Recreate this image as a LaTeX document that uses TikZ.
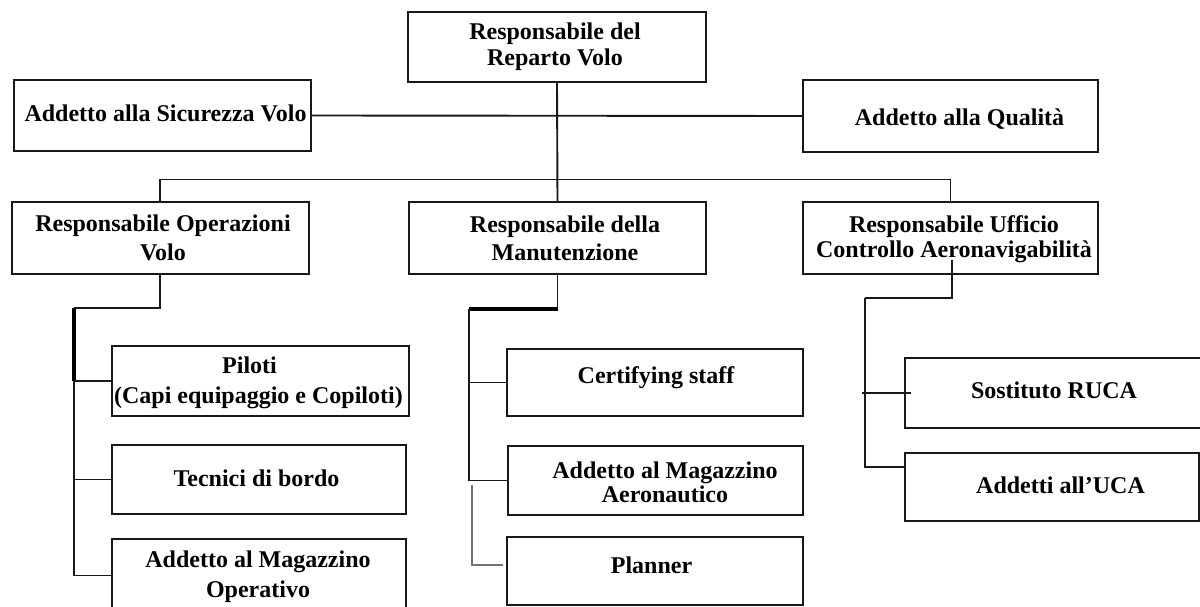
\documentclass[tikz,border=0pt]{standalone}
\usepackage{fontspec}
\setmainfont{Liberation Serif}
\usetikzlibrary{calc}
\begin{document}
\begin{tikzpicture}[x=1pt,y=-1pt,
  box/.style={draw=black!90, line width=2pt, inner sep=0pt, fill=none},
  txt/.style={inner sep=0pt, align=center, font=\fontsize{24}{28}\selectfont\bfseries},
  conn/.style={draw=black!90, line width=1.9pt},
  thickconn/.style={draw=black, line width=3.2pt},
  grayconn/.style={draw=black!55, line width=2.8pt}
]
\useasboundingbox (0,0) rectangle (1200,607);
\clip (0,0) rectangle (1200,607);
\fill[white] (0,0) rectangle (1200,607);

% boxes
\node[box, minimum width=298pt, minimum height=70pt] (top)  at (557,47) {};
\node[box, minimum width=297pt, minimum height=71pt] (sic)  at (162.5,115.5) {};
\node[box, minimum width=295pt, minimum height=72pt] (qual) at (950.5,116) {};
\node[box, minimum width=297.5pt, minimum height=72pt] (ops) at (160.25,238) {};
\node[box, minimum width=297pt, minimum height=72pt] (man)  at (557.5,238) {};
\node[box, minimum width=295pt, minimum height=72pt] (uca)  at (950.5,238) {};
\node[box, minimum width=297pt, minimum height=70pt] (pil)  at (260.5,381) {};
\node[box, minimum width=294pt, minimum height=69pt] (tec)  at (259,479.5) {};
\node[box, minimum width=294pt, minimum height=73pt] (magop) at (259,575.5) {};
\node[box, minimum width=296pt, minimum height=67pt] (cert) at (655,382.5) {};
\node[box, minimum width=295pt, minimum height=69pt] (maer) at (655.5,480.5) {};
\node[box, minimum width=296pt, minimum height=68pt] (plan) at (655,571) {};
\node[box, minimum width=300pt, minimum height=70pt] (sost) at (1055,393) {};
\node[box, minimum width=294pt, minimum height=68pt] (add)  at (1052,487) {};

% texts
\node[txt, font=\fontsize{24}{26}\selectfont\bfseries] (top-t) at (555,47) {Responsabile del\\Reparto Volo};
\node[txt] (sic-t)  at (165.5,113.7) {Addetto alla Sicurezza Volo};
\node[txt] (qual-t) at (959.5,119) {Addetto alla Qualità};
\node[txt, font=\fontsize{24}{29}\selectfont\bfseries] (ops-t) at (163,238) {Responsabile Operazioni\\Volo};
\node[txt] (man-t)  at (565,238) {Responsabile della\\Manutenzione};
\node[txt, font=\fontsize{24}{25.6}\selectfont\bfseries] (uca-t) at (954,239) {Responsabile Ufficio\\Controllo Aeronavigabilità};
\node[txt, font=\fontsize{24}{30}\selectfont\bfseries] (pil-t) at (258.5,382.5) {Piloti\hspace*{18pt}\\(Capi equipaggio e Copiloti)};
\node[txt] (tec-t)  at (256.5,478) {Tecnici di bordo};
\node[txt, font=\fontsize{24}{30}\selectfont\bfseries] (magop-t) at (258,576.5) {Addetto al Magazzino\\Operativo};
\node[txt] (cert-t) at (656,378) {Certifying staff};
\node[txt, font=\fontsize{24}{24}\selectfont\bfseries] (maer-t) at (665,482) {Addetto al Magazzino\\Aeronautico};
\node[txt] (plan-t) at (651.5,565) {Planner};
\node[txt] (sost-t) at (1054,390) {Sostituto RUCA};
\node[txt] (add-t)  at (1060.5,485) {Addetti all’UCA};

% top level connectors
\draw[conn] (top.south) -- (man.north);
\draw[conn] (sic.east) -- (qual.west);
\draw[conn] (ops.north) -- (ops.north |- 0,179.5) -- (uca.north |- 0,179.5) -- (uca.north);

% Operazioni volo branch
\coordinate (o2) at (74,308);
\draw[conn] (ops.south) -- (ops.south |- o2) -- (o2);
\draw[thickconn] (o2) -- (o2 |- pil.west);
\draw[conn] (o2 |- pil.west) -- (o2 |- magop.west) -- (magop.west);
\draw[conn] (o2 |- pil.west) -- (pil.west);
\draw[conn] (o2 |- tec.west) -- (tec.west);

% Manutenzione branch
\coordinate (m2) at (469,309);
\draw[conn] (man.south) -- (man.south |- m2);
\draw[thickconn] (man.south |- m2) -- (m2);
\draw[conn] (m2) -- (m2 |- maer.west) -- (maer.west);
\draw[conn] (m2 |- cert.west) -- (cert.west);
\coordinate (g1) at (472,485);
\coordinate (g2) at (503,565);
\draw[grayconn] (g1) |- (g2);

% UCA branch
\coordinate (u1) at (952,260);
\coordinate (u2) at (865,298);
\draw[conn] (u1) |- (u2);
\draw[conn] (u2) |- ([yshift=20pt]add.west);
\draw[conn] ([xshift=-42pt]sost.west) -- ([xshift=7pt]sost.west);
\end{tikzpicture}
\end{document}
